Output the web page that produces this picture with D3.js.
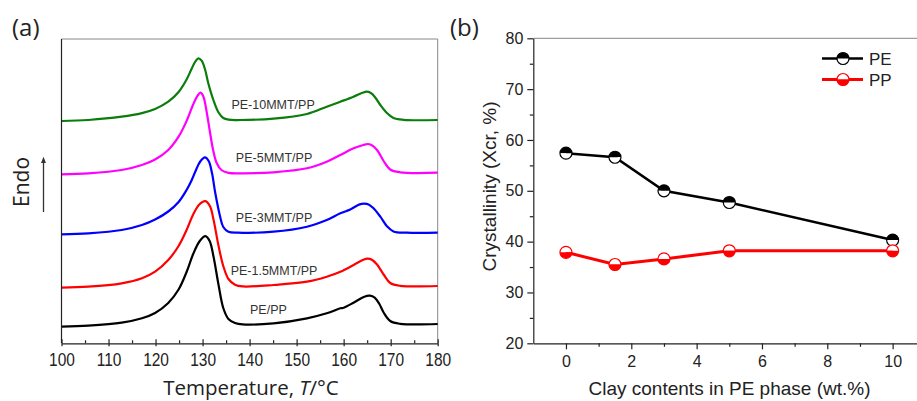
<!DOCTYPE html>
<html>
<head>
<meta charset="utf-8">
<script src="https://cdn.jsdelivr.net/npm/d3@7"></script>
<style>
  body { margin: 0; background: #fff; }
  text { font-family: "Liberation Sans", Arial, sans-serif; fill: #222; }
  .big { font-family: "Open Sans", "Liberation Sans", sans-serif; }
</style>
</head>
<body>
<svg id="fig" width="917" height="401"></svg>
<script>
// ---- panel (a): DSC melting curves, [temperature °C, heat flow a.u.]
var curveNames = ["PE/PP", "PE-1.5MMT/PP", "PE-3MMT/PP", "PE-5MMT/PP", "PE-10MMT/PP"];
var curveColors = ["#000000", "#ff0000", "#0000ff", "#ff00ff", "#0a7d0a"];

var dscPEPP = [[100,16.3],[105.7,17.3],[112.8,20.3],[117.1,24.7],[119.9,30],[122.7,40],[124.9,53.5],[126.6,71],
  [128.0,89],[129.4,102],[130.6,106.8],[131.5,102],[132.3,87],[133.4,58],[134.4,35],[135.5,24],[136.9,20],
  [138.5,18.6],[145.1,19.7],[152.2,24.7],[156.4,29.7],[159.3,34.7],[160.0,35.3],[162.1,40.3],[164.4,46.3],[165.6,47.3],
  [166.6,45.3],[167.6,39],[168.5,30.5],[169.9,22],[172.0,19.2],[180,19]];
var dscPE15 = [[100,55.3],[105.7,56.3],[112.8,59.7],[117.1,64.7],[119.9,71.3],[122.7,83],[124.9,97],[126.6,113],
  [128.0,128.5],[129.3,138.5],[130.6,141.8],[131.6,136.5],[132.3,124],[133.4,97],[134.4,77],[135.5,64],[136.9,58.3],
  [138.5,56.6],[145.1,58],[152.2,61.3],[156.4,66.3],[159.3,71.3],[162.1,78],[164.2,83.3],[165.1,84.3],[166.0,83.3],
  [167.1,78.5],[168.5,68.5],[169.9,60],[172.0,57.2],[180,57]];
var dscPE3 = [[100,108.7],[105.7,109.7],[112.8,113],[117.1,118],[119.9,123.5],[122.7,131.5],[124.9,141],[126.6,153],
  [127.7,163],[128.6,173],[129.5,181.5],[130.5,185.7],[131.3,182],[132.0,170],[132.7,150],[133.7,127],
  [134.4,116],[135.5,111.3],[137.5,110.4],[145.1,111.3],[152.2,116.3],[156.4,123],[159.3,129.7],[161.4,133.5],
  [163.4,138.6],[164.4,139.3],[165.3,138.6],[166.3,135],[167.8,126.3],[169.2,116.8],[170.6,111.6],[173.4,110.3],[180,110.3]];
var dscPE5 = [[100,168.7],[105.7,169.7],[112.8,173],[117.1,178],[119.9,183.5],[122.7,193],[124.9,206.3],[126.6,222],
  [128.0,238.5],[128.9,247],[129.6,250.3],[130.2,246],[130.8,233],[131.5,213],[132.2,194],[133.0,180],[134.0,173],
  [135.5,170.2],[138.0,169.7],[145.1,170.7],[152.2,174.7],[156.4,181.3],[159.3,188],[162.1,194.7],[164.2,198],
  [165.1,199],[165.9,198],[167.1,193],[168.5,182],[169.9,173.5],[172.0,170.7],[180,170.3]];
var dscPE10 = [[100,222],[105.7,223],[112.8,226.3],[117.1,229.9],[119.9,234],[122.7,241.3],[124.9,251],[126.6,263.5],
  [127.7,274.5],[128.4,281],[129.1,284.7],[129.8,282.3],[130.5,274],[131.2,260],[132.3,243],[133.4,230.5],
  [134.4,225],[135.5,223.3],[138.0,223],[145.1,224.3],[152.2,229],[156.4,236.3],[159.3,241.3],[162.1,246.3],
  [164.0,250.2],[164.9,251.3],[165.7,250.2],[166.6,246.3],[167.8,238],[169.2,230],[170.6,225],[172.7,223.2],[180,223]];
var dscCurves = [dscPEPP, dscPE15, dscPE3, dscPE5, dscPE10];
var tempTicks = [100, 110, 120, 130, 140, 150, 160, 170, 180];
var tempMinor = [105, 115, 125, 135, 145, 155, 165, 175];

// ---- panel (b): crystallinity vs clay content
var clay = [0, 1.5, 3, 5, 10];
var xcPE = [57.4, 56.6, 50.0, 47.7, 40.3];
var xcPP = [37.9, 35.5, 36.6, 38.2, 38.2];
var clayTicks = [0, 2, 4, 6, 8, 10];
var clayMinor = [1, 3, 5, 7, 9];
var xcTicks = [20, 30, 40, 50, 60, 70, 80];
var xcMinor = [25, 35, 45, 55, 65, 75];

var svg = d3.select("#fig");

// ================= panel (a)
var pa = {left: 61.5, right: 437.7, top: 39, bottom: 343.3};
var xA = d3.scaleLinear().domain([100, 180]).range([pa.left, pa.right]);
var yA = d3.scaleLinear().domain([0, 304]).range([343, 39]);

var gA = svg.append("g");

// frame
gA.append("path")
  .attr("d", "M" + pa.left + "," + pa.top + "H" + pa.right + "V" + pa.bottom)
  .attr("fill", "none").attr("stroke", "#888").attr("stroke-width", 1);

var line = d3.line()
  .x(function(d) { return xA(d[0]); })
  .y(function(d) { return yA(d[1]); })
  .curve(d3.curveCatmullRom.alpha(0.5));

gA.selectAll("path.dsc")
  .data(dscCurves)
  .enter()
  .append("path")
  .attr("class", "dsc")
  .attr("d", line)
  .attr("fill", "none")
  .attr("stroke", function(d, i) { return curveColors[i]; })
  .attr("stroke-width", 2.2);

// curve labels sit just above each curve's baseline
var labelT = [144.0, 145.2, 145.2, 145.2, 145.0];
gA.selectAll("text.clab")
  .data(curveNames)
  .enter()
  .append("text")
  .attr("class", "clab")
  .attr("x", function(d, i) { return xA(labelT[i]); })
  .attr("y", function(d, i) { return yA(dscCurves[i][0][1] + 12.5); })
  .attr("text-anchor", "middle")
  .style("font-size", "12.5px")
  .style("fill", "#333")
  .text(function(d) { return d; });

// bottom axis, ticks on both sides of the line
var axA = gA.append("g").attr("transform", "translate(0," + pa.bottom + ")");
axA.call(d3.axisBottom(xA).tickValues(tempTicks).tickSizeInner(-4).tickSizeOuter(0));
axA.call(function(g) {
  g.selectAll(".tick line").clone().attr("y2", 3);
});
axA.append("g").call(d3.axisBottom(xA).tickValues(tempMinor).tickSize(-3).tickFormat(""))
  .select(".domain").remove();
// the source figure has slightly tall digits
axA.selectAll(".tick text")
  .attr("y", 7.6)
  .attr("transform", "scale(1,1.2)")
  .style("font-size", "15.5px").style("fill", "#222");
axA.selectAll("line, path").attr("stroke", "#222").attr("stroke-width", 1.2);

// left axis line only
gA.append("line")
  .attr("x1", pa.left).attr("x2", pa.left)
  .attr("y1", pa.top).attr("y2", pa.bottom)
  .attr("stroke", "#222").attr("stroke-width", 1.2);

gA.append("text").attr("class", "big")
  .attr("x", 251).attr("y", 395)
  .attr("text-anchor", "middle")
  .style("font-size", "20.5px")
  .html('Temperature, <tspan font-style="italic">T</tspan>/°C');

gA.append("text").attr("class", "big")
  .attr("x", 12).attr("y", 36)
  .style("font-size", "24px")
  .text("(a)");

gA.append("text").attr("class", "big")
  .attr("transform", "translate(29,182) rotate(-90)")
  .attr("text-anchor", "middle")
  .style("font-size", "21px")
  .text("Endo");

svg.append("defs").append("marker")
  .attr("id", "arrowHead")
  .attr("viewBox", "0 0 10 10")
  .attr("refX", 5).attr("refY", 5)
  .attr("markerWidth", 5).attr("markerHeight", 7)
  .attr("orient", "auto")
  .append("path").attr("d", "M0,1L10,5L0,9Z").attr("fill", "#333");

gA.append("line")
  .attr("x1", 43.5).attr("x2", 43.5)
  .attr("y1", 212).attr("y2", 160)
  .attr("stroke", "#333").attr("stroke-width", 1.3)
  .attr("marker-end", "url(#arrowHead)");

// ================= panel (b)
var pb = {left: 533.3, top: 38.3, bottom: 343.3};
var xB = d3.scaleLinear().domain([-1, 11]).range([533.3, 925.3]);
var yB = d3.scaleLinear().domain([20, 80]).range([343.3, 38.3]);

var gB = svg.append("g");

gB.append("line")
  .attr("x1", pb.left).attr("x2", 917)
  .attr("y1", pb.top).attr("y2", pb.top)
  .attr("stroke", "#888").attr("stroke-width", 1);

var axBx = gB.append("g").attr("transform", "translate(0," + pb.bottom + ")");
axBx.call(d3.axisBottom(xB).tickValues(clayTicks).tickSizeInner(6).tickSizeOuter(0).tickPadding(6));
axBx.append("g").call(d3.axisBottom(xB).tickValues(clayMinor).tickSize(3.5).tickFormat(""))
  .select(".domain").remove();

var axBy = gB.append("g").attr("transform", "translate(" + pb.left + ",0)");
axBy.call(d3.axisLeft(yB).tickValues(xcTicks).tickSizeInner(6).tickSizeOuter(0).tickPadding(4));
axBy.append("g").call(d3.axisLeft(yB).tickValues(xcMinor).tickSize(3.5).tickFormat(""))
  .select(".domain").remove();

gB.selectAll(".tick text").style("font-size", "16px").style("fill", "#222");
gB.selectAll(".tick line, .domain").attr("stroke", "#222").attr("stroke-width", 1.2);

gB.append("text")
  .attr("x", 729.5).attr("y", 395)
  .attr("text-anchor", "middle")
  .style("font-size", "19px")
  .text("Clay contents in PE phase (wt.%)");

gB.append("text")
  .attr("transform", "translate(496,186.5) rotate(-90)")
  .attr("text-anchor", "middle")
  .style("font-size", "19px")
  .text("Crystallinity (Xcr, %)");

gB.append("text").attr("class", "big")
  .attr("x", 450).attr("y", 36)
  .style("font-size", "24px")
  .text("(b)");

var series = [
  {name: "PE", values: xcPE, color: "#000000", topFill: "#000000", bottomFill: "#ffffff"},
  {name: "PP", values: xcPP, color: "#ff0000", topFill: "#ffffff", bottomFill: "#ff0000"}
];

var r = 6;
var topHalf = d3.arc()({innerRadius: 0, outerRadius: r, startAngle: -Math.PI / 2, endAngle: Math.PI / 2});
var bottomHalf = d3.arc()({innerRadius: 0, outerRadius: r, startAngle: Math.PI / 2, endAngle: 3 * Math.PI / 2});

var drawMarker = function(g, s) {
  g.append("path").attr("d", topHalf).attr("fill", s.topFill);
  g.append("path").attr("d", bottomHalf).attr("fill", s.bottomFill);
  g.append("circle").attr("r", r).attr("fill", "none")
    .attr("stroke", s.color).attr("stroke-width", 1.2);
};

var sLine = d3.line()
  .x(function(d) { return xB(d[0]); })
  .y(function(d) { return yB(d[1]); });

series.forEach(function(s) {
  var pts = clay.map(function(c, i) { return [c, s.values[i]]; });
  gB.append("path")
    .attr("d", sLine(pts))
    .attr("fill", "none")
    .attr("stroke", s.color)
    .attr("stroke-width", s.name == "PP" ? 3 : 2.6);
  pts.forEach(function(p) {
    var m = gB.append("g").attr("transform", "translate(" + xB(p[0]) + "," + yB(p[1]) + ")");
    drawMarker(m, s);
  });
});

// legend
var leg = gB.append("g");
series.forEach(function(s, i) {
  var ly = 58.5 + i * 21;
  leg.append("line")
    .attr("x1", 822).attr("x2", 863)
    .attr("y1", ly).attr("y2", ly)
    .attr("stroke", s.color).attr("stroke-width", s.name == "PP" ? 3 : 2.6);
  drawMarker(leg.append("g").attr("transform", "translate(843," + ly + ")"), s);
  leg.append("text")
    .attr("x", 869).attr("y", ly + 6)
    .style("font-size", "17px")
    .text(s.name);
});
</script>
</body>
</html>
